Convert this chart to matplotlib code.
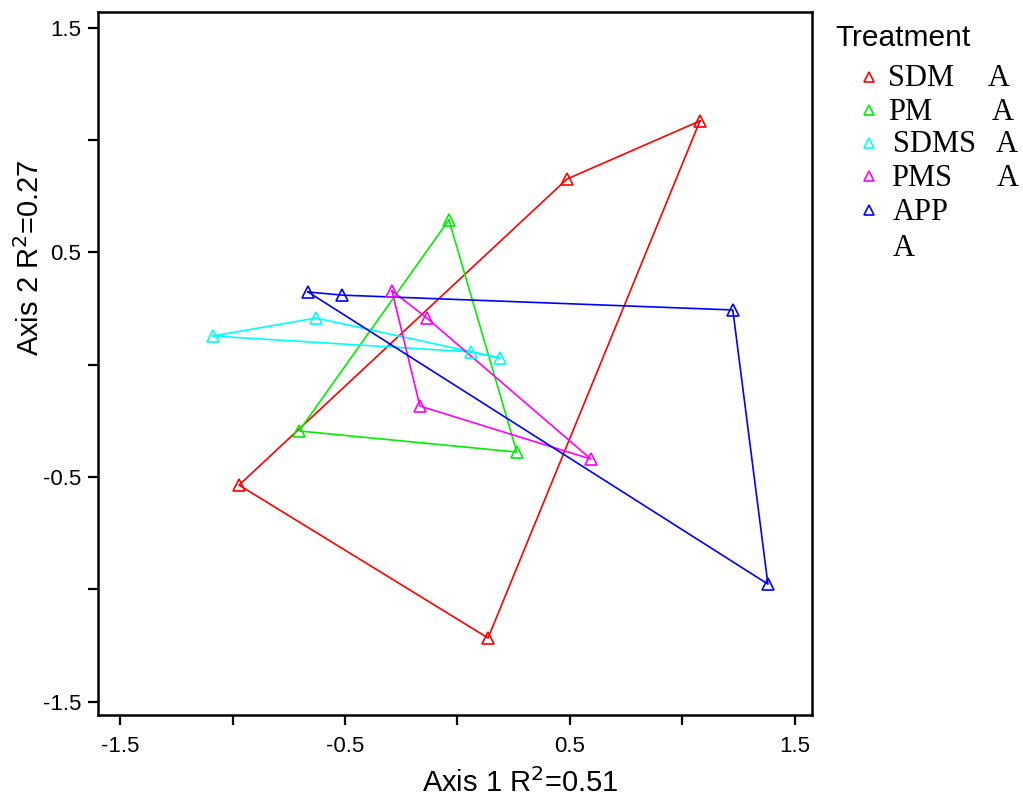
import matplotlib
matplotlib.use("Agg")
import matplotlib.pyplot as plt
from matplotlib.lines import Line2D

# ---- data (polygon vertex order per treatment) ----
treatments = ["SDM", "PM", "SDMS", "PMS", "APP"]
colors = ["#ff0000", "#00ee00", "#00ffff", "#ff00ff", "#0000ff"]

sdm_x = [1.078, 0.487, -0.971, 0.136]
sdm_y = [1.086, 0.827, -0.536, -1.217]

pm_x = [-0.038, 0.264, -0.704]
pm_y = [0.645, -0.389, -0.295]

sdms_x = [-1.087, -0.629, 0.189, 0.060]
sdms_y = [0.128, 0.208, 0.030, 0.057]

pms_x = [-0.291, -0.136, 0.593, -0.167]
pms_y = [0.329, 0.208, -0.420, -0.184]

app_x = [-0.664, -0.513, 1.224, 1.380]
app_y = [0.324, 0.310, 0.244, -0.977]

groups_label = ["A", "A", "A", "A", "A"]

series_x = [sdm_x, pm_x, sdms_x, pms_x, app_x]
series_y = [sdm_y, pm_y, sdms_y, pms_y, app_y]

tick_vals = [-1.5, -1.0, -0.5, 0.0, 0.5, 1.0, 1.5]
tick_labels = ["-1.5", "", "-0.5", "", "0.5", "", "1.5"]

# ---- figure ----
W, H = 1023, 805
fig = plt.figure(figsize=(W / 100, H / 100), dpi=100)
ax = fig.add_axes([98 / W, 1 - 715 / H, (812 - 98) / W, (715 - 12) / H])

sans = ["Liberation Sans", "DejaVu Sans"]
serif = ["Liberation Serif", "DejaVu Serif"]

for xs, ys, c in zip(series_x, series_y, colors):
    px = list(xs) + [xs[0]]
    py = list(ys) + [ys[0]]
    ax.plot(px, py, color=c, lw=1.2, zorder=2)
    ax.plot(xs, ys, ls="none", marker="^", ms=9, mfc="none", mec=c, mew=1.2, zorder=3)

ax.set_xlim(-1.598, 1.576)
ax.set_ylim(-1.560, 1.571)
ax.set_xticks(tick_vals)
ax.set_xticklabels(tick_labels, fontsize=16, family=sans)
ax.set_yticks(tick_vals)
ax.set_yticklabels(tick_labels, fontsize=16, family=sans)
ax.tick_params(axis="both", direction="out", length=7, width=1.6, color="black")
ax.tick_params(axis="x", pad=8)
ax.tick_params(axis="y", pad=5)
for s in ax.spines.values():
    s.set_linewidth(1.8)

fig.text(520 / W, 1 - 783 / H, "Axis 1 R$^{2}$=0.51", fontsize=21, family=sans,
         ha="center", va="center")
fig.text(30 / W, 1 - 258 / H, "Axis 2 R$^{2}$=0.27", fontsize=21, family=sans,
         ha="center", va="center", rotation=90)

# ---- legend (manual) ----
fig.text(835 / W, 1 - 38 / H, "Treatment", fontsize=21.5, family=sans, ha="left", va="center")
row_y = [79, 112, 145, 178, 212]
name_x = [888, 888, 893, 891, 893]
a_pos = [(988, 79), (992, 112), (996, 145), (997, 178), (893, 249)]
for i, (name, c) in enumerate(zip(treatments, colors)):
    yy = 1 - row_y[i] / H
    fig.add_artist(Line2D([869 / W], [yy + 2 / H], marker="^", ms=7.5, mfc="none",
                          mec=c, mew=1.2, ls="none", transform=fig.transFigure))
    fig.text(name_x[i] / W, yy, name, fontsize=22, family=serif, ha="left", va="center")
    ax_, ay_ = a_pos[i]
    fig.text(ax_ / W, 1 - ay_ / H, groups_label[i], fontsize=22, family=serif,
             ha="left", va="center")

fig.savefig("out.png", dpi=100)
